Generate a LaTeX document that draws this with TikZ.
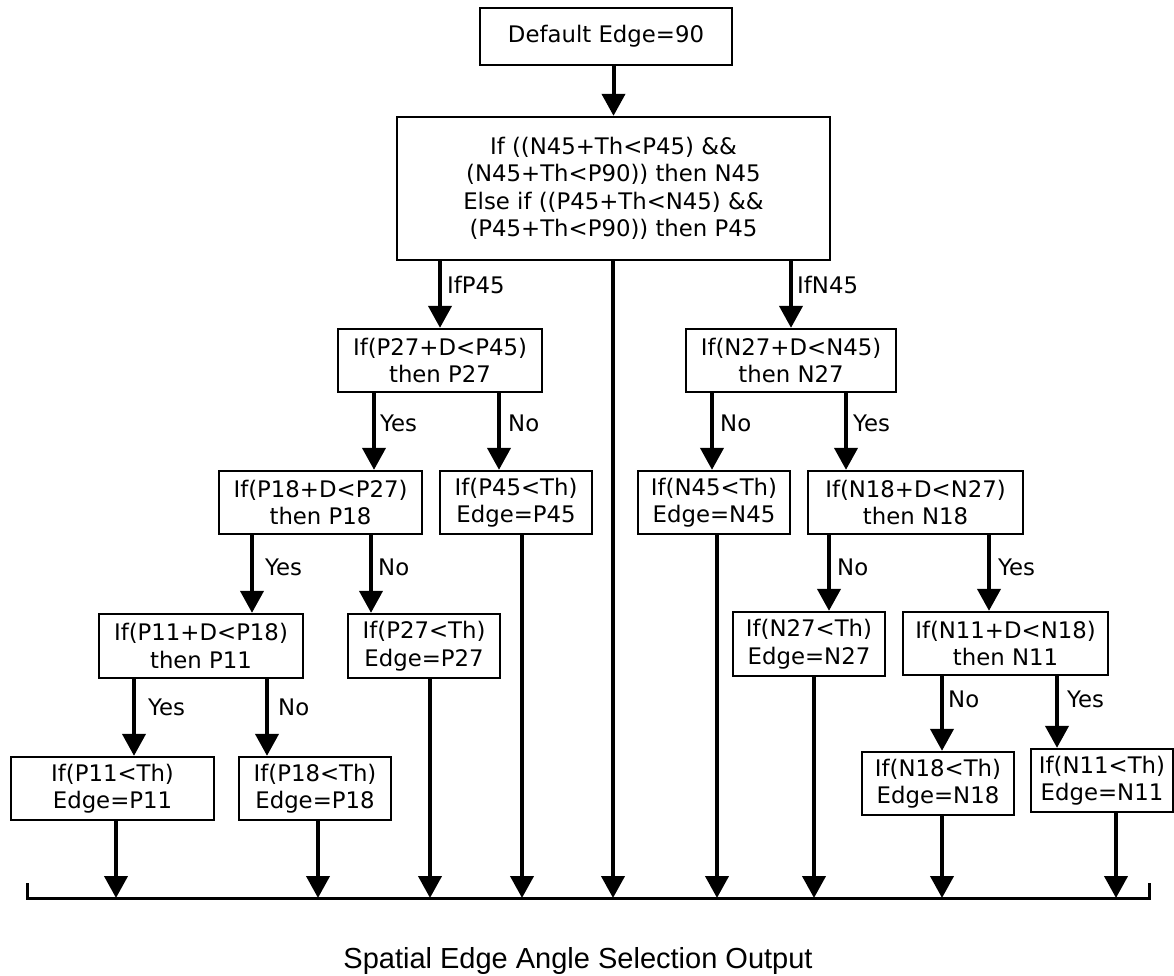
\documentclass[tikz,border=0pt]{standalone}
\usepackage{fontspec}
\setmainfont{DejaVu Sans}
\newfontfamily\captionfont{Liberation Sans}
\usetikzlibrary{arrows.meta}
\begin{document}
\begin{tikzpicture}[x=1pt,y=-1pt,
  box/.style={draw, line width=2.3pt, inner sep=0pt, align=center,
              font=\fontsize{22.8}{27.5}\selectfont},
  flow/.style={line width=4pt, -{Triangle[width=23pt,length=22pt]}},
  lbl/.style={anchor=west, inner sep=0pt, font=\fontsize{22.8}{27.5}\selectfont},
  bus/.style={line width=3pt}]
\useasboundingbox (0,0) rectangle (1174,976);

% decision and result boxes
\node[box, minimum width=252pt, minimum height=57pt] (start) at (606,36.5) {Default Edge=90};
\node[box, minimum width=433pt, minimum height=143pt] (main) at (613.5,188.5)
  {If ((N45+Th<P45) \&\&\\(N45+Th<P90)) then N45\\Else if ((P45+Th<N45) \&\&\\(P45+Th<P90)) then P45};

\node[box, minimum width=204pt, minimum height=63pt] (p27) at (440,360.5) {If(P27+D<P45)\\then P27};
\node[box, minimum width=210pt, minimum height=63pt] (n27) at (791,360.5) {If(N27+D<N45)\\then N27};

\node[box, minimum width=203pt, minimum height=63pt] (p18) at (320.5,502.5) {If(P18+D<P27)\\then P18};
\node[box, minimum width=152pt, minimum height=63pt] (p45th) at (516,502.5) {If(P45<Th)\\Edge=P45};
\node[box, minimum width=152pt, minimum height=63pt] (n45th) at (714,502.5) {If(N45<Th)\\Edge=N45};
\node[box, minimum width=215pt, minimum height=63pt] (n18) at (915.5,502.5) {If(N18+D<N27)\\then N18};

\node[box, minimum width=204pt, minimum height=64pt] (p11) at (201,646) {If(P11+D<P18)\\then P11};
\node[box, minimum width=152pt, minimum height=64pt] (p27th) at (424,646) {If(P27<Th)\\Edge=P27};
\node[box, minimum width=152pt, minimum height=64pt] (n27th) at (809,644) {If(N27<Th)\\Edge=N27};
\node[box, minimum width=205pt, minimum height=63pt] (n11) at (1005.5,643.5) {If(N11+D<N18)\\then N11};

\node[box, minimum width=203pt, minimum height=63pt] (p11th) at (112.5,788.5) {If(P11<Th)\\Edge=P11};
\node[box, minimum width=152pt, minimum height=63pt] (p18th) at (315,788.5) {If(P18<Th)\\Edge=P18};
\node[box, minimum width=152pt, minimum height=63pt] (n18th) at (938,783.5) {If(N18<Th)\\Edge=N18};
\node[box, minimum width=142pt, minimum height=63pt] (n11th) at (1102,780.5) {If(N11<Th)\\Edge=N11};

% decision flow
\draw[flow] (start.south -| main.north) -- (main.north);
\draw[flow] (main.south -| p27.north) -- (p27.north);
\draw[flow] (main.south -| n27.north) -- (n27.north);

\draw[flow] (p27.south -| 374,0) -- (p18.north -| 374,0);
\draw[flow] (p27.south -| 499,0) -- (p45th.north -| 499,0);
\draw[flow] (n27.south -| 712,0) -- (n45th.north -| 712,0);
\draw[flow] (n27.south -| 846,0) -- (n18.north -| 846,0);

\draw[flow] (p18.south -| 252,0) -- (p11.north -| 252,0);
\draw[flow] (p18.south -| 371,0) -- (p27th.north -| 371,0);
\draw[flow] (n18.south -| 829,0) -- (n27th.north -| 829,0);
\draw[flow] (n18.south -| 989,0) -- (n11.north -| 989,0);

\draw[flow] (p11.south -| 134,0) -- (p11th.north -| 134,0);
\draw[flow] (p11.south -| 267,0) -- (p18th.north -| 267,0);
\draw[flow] (n11.south -| 942,0) -- (n18th.north -| 942,0);
\draw[flow] (n11.south -| 1057,0) -- (n11th.north -| 1057,0);

% branch labels
\node[lbl] (lp45) at (447,285) {IfP45};
\node[lbl] (ln45) at (797,285) {IfN45};
\node[lbl] (ly1) at (380,423) {Yes};
\node[lbl] (ln1) at (508,423) {No};
\node[lbl] (ln2) at (720,423) {No};
\node[lbl] (ly2) at (853,423) {Yes};
\node[lbl] (ly3) at (265,567) {Yes};
\node[lbl] (ln3) at (378,567) {No};
\node[lbl] (ln4) at (837,567) {No};
\node[lbl] (ly4) at (998,567) {Yes};
\node[lbl] (ly5) at (148,707) {Yes};
\node[lbl] (ln5) at (278,707) {No};
\node[lbl] (ln6) at (948,699) {No};
\node[lbl] (ly6) at (1067,699) {Yes};

% output bus
\coordinate (bl) at (27,898);
\coordinate (br) at (1149,898);
\coordinate (t1) at (116,898);
\coordinate (t2) at (318,898);
\coordinate (t3) at (430,898);
\coordinate (t4) at (522,898);
\coordinate (t5) at (613,898);
\coordinate (t6) at (717,898);
\coordinate (t7) at (814,898);
\coordinate (t8) at (942,898);
\coordinate (t9) at (1116,898);
\draw[bus] ([yshift=15pt]bl) -- (bl) -- (br) -- ([yshift=15pt]br);

\draw[flow] (p11th.south -| t1) -- (t1);
\draw[flow] (p18th.south -| t2) -- (t2);
\draw[flow] (p27th.south -| t3) -- (t3);
\draw[flow] (p45th.south -| t4) -- (t4);
\draw[flow] (main.south -| t5) -- (t5);
\draw[flow] (n45th.south -| t6) -- (t6);
\draw[flow] (n27th.south -| t7) -- (t7);
\draw[flow] (n18th.south -| t8) -- (t8);
\draw[flow] (n11th.south -| t9) -- (t9);

\node[anchor=base, inner sep=0pt, font=\captionfont\fontsize{29}{34}\selectfont] (out)
  at (578,968) {Spatial Edge Angle Selection Output};
\end{tikzpicture}
\end{document}
